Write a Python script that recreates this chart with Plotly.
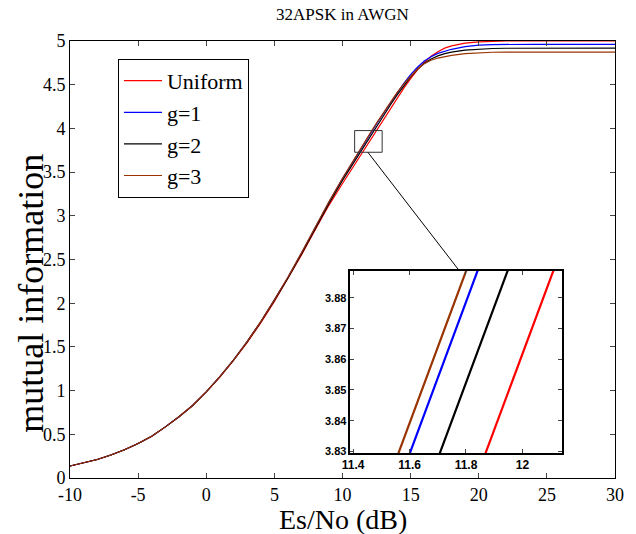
import plotly.graph_objects as go

# ---- data ----
snr_db = [-10, -9, -8, -7, -6, -5, -4, -3, -2, -1, 0, 1, 2, 3, 4, 5, 6, 7, 8, 9, 10, 11,
          12, 12.5, 13, 13.5, 14, 14.5, 15, 15.5, 16, 16.5, 17, 17.5, 18,
          19, 20, 21, 22, 23, 24, 25, 26, 27, 28, 29, 30]

mi_uniform = [0.137, 0.171, 0.212, 0.263, 0.323, 0.394, 0.478, 0.585, 0.700, 0.830, 0.985,
              1.155, 1.345, 1.550, 1.775, 2.020, 2.280, 2.555, 2.840, 3.120, 3.370, 3.615,
              3.862, 3.985, 4.105, 4.225, 4.345, 4.460, 4.570, 4.670, 4.755, 4.825, 4.878, 4.918, 4.945,
              4.975, 4.990, 4.997, 5.000, 5.000, 5.000, 5.000, 5.000, 5.000, 5.000, 5.000, 5.000]
mi_g1 = [0.137, 0.171, 0.212, 0.263, 0.323, 0.394, 0.478, 0.585, 0.700, 0.830, 0.985,
         1.160, 1.350, 1.560, 1.788, 2.038, 2.297, 2.577, 2.866, 3.156, 3.425, 3.681,
         3.928, 4.050, 4.170, 4.290, 4.405, 4.515, 4.615, 4.700, 4.770, 4.820, 4.858, 4.885, 4.905,
         4.935, 4.952, 4.959, 4.962, 4.962, 4.962, 4.962, 4.962, 4.962, 4.962, 4.962, 4.962]
mi_g2 = [0.137, 0.171, 0.212, 0.263, 0.323, 0.394, 0.478, 0.585, 0.700, 0.830, 0.985,
         1.160, 1.350, 1.558, 1.785, 2.032, 2.288, 2.565, 2.852, 3.138, 3.405, 3.655,
         3.902, 4.025, 4.145, 4.265, 4.380, 4.490, 4.590, 4.675, 4.745, 4.795, 4.830, 4.855, 4.872,
         4.895, 4.908, 4.914, 4.917, 4.918, 4.918, 4.918, 4.918, 4.918, 4.918, 4.918, 4.918]
mi_g3 = [0.137, 0.171, 0.212, 0.263, 0.323, 0.394, 0.478, 0.585, 0.700, 0.830, 0.985,
         1.160, 1.350, 1.560, 1.790, 2.040, 2.300, 2.580, 2.870, 3.160, 3.430, 3.691,
         3.938, 4.060, 4.180, 4.300, 4.410, 4.510, 4.600, 4.680, 4.740, 4.780, 4.805, 4.822, 4.836,
         4.856, 4.866, 4.871, 4.873, 4.873, 4.873, 4.873, 4.873, 4.873, 4.873, 4.873, 4.873]

series_names = ["Uniform", "g=1", "g=2", "g=3"]
series_values = [mi_uniform, mi_g1, mi_g2, mi_g3]
series_colors = ["#ff0000", "#0000ff", "#000000", "#993300"]

main_xticks = [-10, -5, 0, 5, 10, 15, 20, 25, 30]
main_xticklabels = ["-10", "-5", "0", "5", "10", "15", "20", "25", "30"]
main_yticks = [0, 0.5, 1, 1.5, 2, 2.5, 3, 3.5, 4, 4.5, 5]
main_yticklabels = ["0", "0.5", "1", "1.5", "2", "2.5", "3", "3.5", "4", "4.5", "5"]
inset_xticks = [11.4, 11.6, 11.8, 12]
inset_xticklabels = ["11.4", "11.6", "11.8", "12"]
inset_yticks = [3.83, 3.84, 3.85, 3.86, 3.87, 3.88]

title_text = "32APSK in AWGN"
xlabel_text = "Es/No (dB)"
ylabel_text = "mutual information"

serif = "Liberation Serif"
sans = "Liberation Sans"

fig = go.Figure()
for name, vals, col in zip(series_names, series_values, series_colors):
    fig.add_trace(go.Scatter(x=snr_db, y=vals, mode="lines", name=name,
                             line=dict(color=col, width=1.2)))
for name, vals, col in zip(series_names, series_values, series_colors):
    fig.add_trace(go.Scatter(x=snr_db, y=vals, mode="lines", name=name,
                             showlegend=False, xaxis="x2", yaxis="y2",
                             line=dict(color=col, width=2.2)))

fig.update_layout(
    width=636, height=534,
    margin=dict(l=70, r=12, t=41, b=56),
    paper_bgcolor="white", plot_bgcolor="white",
    hovermode=False,
    xaxis=dict(range=[-10, 30], tickvals=main_xticks, ticktext=main_xticklabels,
               ticks="inside", ticklen=5,
               showline=True, linecolor="black", linewidth=1, mirror="allticks",
               showgrid=False, zeroline=False,
               tickfont=dict(family=serif, size=18, color="black")),
    yaxis=dict(range=[0, 5], tickvals=main_yticks, ticktext=main_yticklabels,
               ticks="inside", ticklen=5,
               showline=True, linecolor="black", linewidth=1, mirror="allticks",
               showgrid=False, zeroline=False,
               tickfont=dict(family=serif, size=18, color="black")),
    xaxis2=dict(domain=[0.5144, 0.9025], anchor="y2", range=[11.39, 12.14],
                tickvals=inset_xticks, ticktext=inset_xticklabels,
                ticks="inside", ticklen=4, showline=True, linecolor="black", linewidth=1.5,
                mirror="allticks", showgrid=False, zeroline=False,
                tickfont=dict(family=sans, size=12, color="black", weight="bold")),
    yaxis2=dict(domain=[0.0572, 0.4737], anchor="x2", range=[3.8295, 3.8887],
                tickvals=inset_yticks, tickformat=".2f",
                ticks="inside", ticklen=4, showline=True, linecolor="black", linewidth=1.5,
                mirror="allticks", showgrid=False, zeroline=False,
                tickfont=dict(family=sans, size=11, color="black", weight="bold")),
    legend=dict(x=0.088, y=0.959, xanchor="left", yanchor="top",
                bgcolor="white", bordercolor="black", borderwidth=1,
                font=dict(family=serif, size=22, color="black"),
                itemwidth=38, tracegroupgap=0),
    showlegend=True,
)

# title and axis labels
fig.add_annotation(text=title_text, xref="paper", yref="paper", x=0.5, y=1.0595,
                   xanchor="center", yanchor="middle", showarrow=False,
                   font=dict(family=serif, size=17, color="black"))
fig.add_annotation(text=xlabel_text, xref="paper", yref="paper", x=0.5, y=-0.094,
                   xanchor="center", yanchor="middle", showarrow=False,
                   font=dict(family=serif, size=28, color="black"))
fig.add_annotation(text=ylabel_text, xref="paper", yref="paper", x=-0.0722, y=0.423,
                   xanchor="center", yanchor="middle", showarrow=False, textangle=-90,
                   font=dict(family=serif, size=36, color="black"))

# zoom rectangle and connector
fig.add_shape(type="rect", xref="x", yref="y", x0=10.89, x1=12.91, y0=3.727, y1=3.975,
              line=dict(color="#333333", width=1))
fig.add_shape(type="line", xref="x", yref="y", x0=11.86, y0=3.727, x1=18.59, y1=2.368,
              line=dict(color="black", width=1))

# remove the browser's default 8px body margin so the figure fills the window exactly
fig.write_html("out.html",
               config={"displayModeBar": False},
               post_script="document.body.style.margin='0';document.body.style.overflow='hidden';")
